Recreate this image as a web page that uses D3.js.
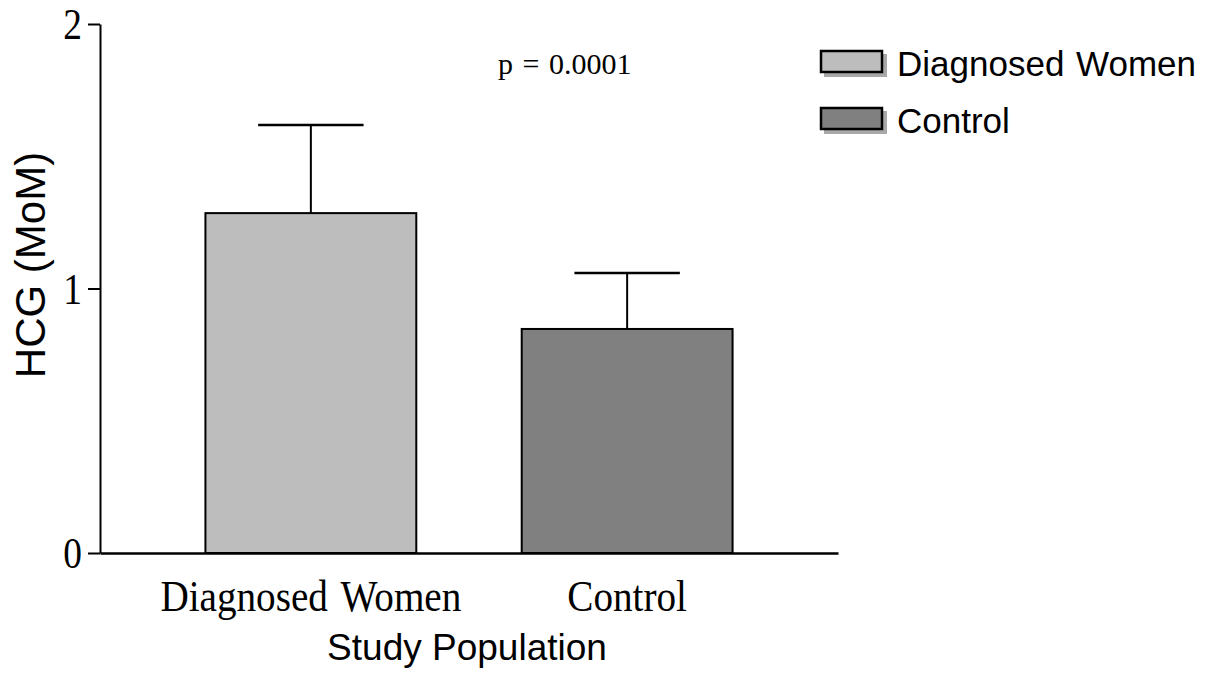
<!DOCTYPE html>
<html>
<head>
<meta charset="utf-8">
<script src="https://cdn.jsdelivr.net/npm/d3@7"></script>
<style>
  body { margin: 0; background: #fff; }
  svg { display: block; }
  .serif { font-family: "Liberation Serif", "Times New Roman", serif; }
  .sans { font-family: "Liberation Sans", Arial, sans-serif; }
</style>
</head>
<body>
<div id="chart"></div>
<script>
"use strict";

var categories = ["Diagnosed Women", "Control"],
	means = [1.285, 0.847],
	errors = [0.333, 0.212],
	barColors = ["#bdbdbd", "#808080"],
	yTicks = [0, 1, 2],
	pLabel = "p = 0.0001";

var width = 1219,
	height = 674,
	plotLeft = 100,
	plotRight = 838,
	plotTop = 24,
	plotBottom = 553;

var svg = d3.select("#chart")
	.append("svg")
	.attr("width", width)
	.attr("height", height);

var x = d3.scaleBand()
	.domain(categories)
	.range([plotLeft, plotRight])
	.paddingInner(1 / 3)
	.paddingOuter(1 / 3);

var y = d3.scaleLinear()
	.domain([0, 2])
	.range([plotBottom, plotTop]);

// bars
svg.append("g")
	.selectAll("rect")
	.data(categories)
	.enter()
	.append("rect")
	.attr("x", function(d) { return x(d); })
	.attr("y", function(d, i) { return y(means[i]); })
	.attr("width", x.bandwidth())
	.attr("height", function(d, i) { return y(0) - y(means[i]); })
	.attr("fill", function(d, i) { return barColors[i]; })
	.attr("stroke", "#000")
	.attr("stroke-width", 2);

// error bars (upper only)
var err = svg.append("g")
	.selectAll("g")
	.data(categories)
	.enter()
	.append("g");

err.append("line")
	.attr("x1", function(d) { return x(d) + x.bandwidth() / 2; })
	.attr("x2", function(d) { return x(d) + x.bandwidth() / 2; })
	.attr("y1", function(d, i) { return y(means[i]); })
	.attr("y2", function(d, i) { return y(means[i] + errors[i]); })
	.attr("stroke", "#000")
	.attr("stroke-width", 2);

err.append("line")
	.attr("x1", function(d) { return x(d) + x.bandwidth() / 4; })
	.attr("x2", function(d) { return x(d) + x.bandwidth() * 3 / 4; })
	.attr("y1", function(d, i) { return y(means[i] + errors[i]); })
	.attr("y2", function(d, i) { return y(means[i] + errors[i]); })
	.attr("stroke", "#000")
	.attr("stroke-width", 2.5);

// y axis
var yAxis = svg.append("g")
	.attr("transform", "translate(" + plotLeft + ",0)")
	.call(d3.axisLeft(y)
		.tickValues(yTicks)
		.tickFormat(d3.format("d"))
		.tickSize(12)
		.tickSizeOuter(0)
		.tickPadding(6));

yAxis.select(".domain").attr("stroke", "#000").attr("stroke-width", 2);
yAxis.selectAll(".tick line").attr("stroke", "#000").attr("stroke-width", 2);
yAxis.selectAll(".tick text")
	.attr("class", "serif")
	.attr("font-size", 44)
	.attr("fill", "#000")
	.attr("dy", "0.34em")
	.attr("transform", "translate(-18,0) scale(0.85,1) translate(18,0)");

// x axis
var xAxis = svg.append("g")
	.attr("transform", "translate(0," + plotBottom + ")")
	.call(d3.axisBottom(x).tickSize(0).tickSizeOuter(0));

xAxis.select(".domain").attr("stroke", "#000").attr("stroke-width", 2.5);
xAxis.selectAll(".tick text")
	.attr("class", "serif")
	.attr("font-size", 44)
	.attr("fill", "#000")
	.attr("y", 58)
	.attr("dy", 0)
	.attr("word-spacing", 4)
	.attr("transform", "scale(0.89,1)");

// axis titles
svg.append("text")
	.attr("class", "sans")
	.attr("font-size", 42)
	.attr("text-anchor", "middle")
	.attr("transform", "translate(45,265) rotate(-90)")
	.text("HCG (MoM)");

svg.append("text")
	.attr("class", "sans")
	.attr("font-size", 37)
	.attr("text-anchor", "middle")
	.attr("x", (plotLeft + plotRight) / 2 - 2)
	.attr("y", 660)
	.text("Study Population");

// p value
svg.append("text")
	.attr("class", "serif")
	.attr("font-size", 30)
	.attr("word-spacing", 2)
	.attr("x", 498)
	.attr("y", 74)
	.text(pLabel);

// legend
var legend = svg.append("g")
	.selectAll("g")
	.data(categories)
	.enter()
	.append("g")
	.attr("transform", function(d, i) { return "translate(820," + (50 + i * 57) + ")"; });

legend.append("rect")
	.attr("x", 4)
	.attr("y", 4)
	.attr("width", 63)
	.attr("height", 23)
	.attr("fill", "#a8a8a8");

legend.append("rect")
	.attr("x", 1)
	.attr("y", 1)
	.attr("width", 61)
	.attr("height", 21)
	.attr("fill", function(d, i) { return barColors[i]; })
	.attr("stroke", "#000")
	.attr("stroke-width", 2.5);

legend.append("text")
	.attr("class", "sans")
	.attr("font-size", 35)
	.attr("word-spacing", 2)
	.attr("x", 77)
	.attr("y", 26)
	.text(function(d) { return d; });
</script>
</body>
</html>
